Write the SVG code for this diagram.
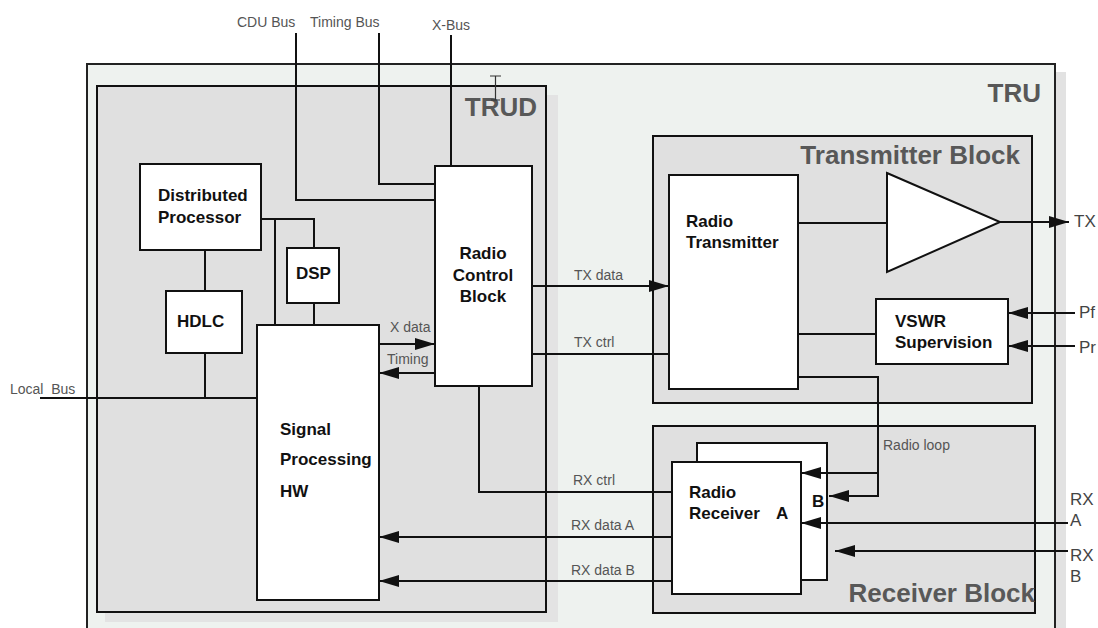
<svg xmlns="http://www.w3.org/2000/svg" width="1098" height="628" viewBox="0 0 1098 628">
<style>
.box{fill:#fff;stroke:#111;stroke-width:2}
.blk{fill:#e0e0e0;stroke:#111;stroke-width:2}
.ln{fill:none;stroke:#111;stroke-width:2}
.nl{font-family:"Liberation Sans",Arial,sans-serif;font-size:17px;font-weight:bold;fill:#111}
.tl{font-family:"Liberation Sans",Arial,sans-serif;font-size:26px;font-weight:bold;fill:#585858}
.lb{font-family:"Liberation Sans",Arial,sans-serif;font-size:14px;fill:#555}
.io{font-family:"Liberation Sans",Arial,sans-serif;font-size:17px;fill:#444}
</style>
<defs>
<marker id="ah" markerUnits="userSpaceOnUse" markerWidth="20" markerHeight="12" refX="20" refY="6" orient="auto">
<path d="M0,0 L20,6 L0,12 z" fill="#111"/>
</marker>
</defs>
<rect width="1098" height="628" fill="#fff"/>
<g id="tru">
<rect x="1055" y="72" width="11" height="570" fill="#e2e2e2"/>
<rect x="87" y="64" width="968" height="580" fill="#eef2ef" stroke="#222" stroke-width="2"/>
<text class="tl" x="1041" y="102" text-anchor="end">TRU</text>
</g>
<g id="trud">
<rect x="546" y="95" width="12" height="527" fill="#e3e3e3"/>
<rect x="105" y="612" width="453" height="10" fill="#e3e3e3"/>
<rect class="blk" x="97" y="86" width="449" height="526"/>
<text class="tl" x="537" y="116" text-anchor="end">TRUD</text>
</g>
<g id="transmitter-block">
<rect class="blk" x="653" y="136" width="379" height="267"/>
<text class="tl" x="1020" y="164" text-anchor="end">Transmitter Block</text>
</g>
<g id="receiver-block">
<rect class="blk" x="653" y="426" width="382" height="187"/>
<text class="tl" x="1035" y="602" text-anchor="end">Receiver Block</text>
</g>
<path d="M490,76 H501 M495.5,76 V100 M491,100 H500" stroke="#333" stroke-width="1.2" fill="none"/>
<g id="distributed-processor">
<rect class="box" x="140" y="164" width="121" height="86"/>
<text class="nl" x="158" y="201">Distributed</text>
<text class="nl" x="158" y="223">Processor</text>
</g>
<g id="hdlc">
<rect class="box" x="166" y="291" width="76" height="62"/>
<text class="nl" x="177" y="327">HDLC</text>
</g>
<g id="dsp">
<rect class="box" x="287" y="248" width="52" height="55"/>
<text class="nl" x="296" y="279">DSP</text>
</g>
<g id="signal-processing">
<rect class="box" x="257" y="325" width="122" height="275"/>
<text class="nl" x="280" y="435">Signal</text>
<text class="nl" x="280" y="465">Processing</text>
<text class="nl" x="280" y="497">HW</text>
</g>
<g id="radio-control-block">
<rect class="box" x="435" y="166" width="97" height="220"/>
<text class="nl" x="483" y="259" text-anchor="middle">Radio</text>
<text class="nl" x="483" y="281" text-anchor="middle">Control</text>
<text class="nl" x="483" y="302" text-anchor="middle">Block</text>
</g>
<g id="radio-transmitter">
<rect class="box" x="669" y="175" width="129" height="214"/>
<text class="nl" x="686" y="227">Radio</text>
<text class="nl" x="686" y="248">Transmitter</text>
</g>
<g id="amplifier">
<path class="box" d="M887,173 L1000,222 L887,272 z"/>
</g>
<g id="vswr">
<rect class="box" x="876" y="299" width="132" height="65"/>
<text class="nl" x="895" y="327">VSWR</text>
<text class="nl" x="895" y="348">Supervision</text>
</g>
<g id="radio-receiver-b">
<rect class="box" x="697" y="443" width="130" height="137"/>
<text class="nl" x="812" y="507">B</text>
</g>
<g id="radio-receiver-a">
<rect class="box" x="672" y="462" width="129" height="132"/>
<text class="nl" x="689" y="498">Radio</text>
<text class="nl" x="689" y="519">Receiver</text>
<text class="nl" x="776" y="519">A</text>
</g>
<g id="connectors">
<path class="ln" d="M296,33 V200 H435"/>
<path class="ln" d="M379,33 V184 H435"/>
<path class="ln" d="M451,35 V166"/>
<path class="ln" d="M261,219 H314 V248"/>
<path class="ln" d="M275,219 V325"/>
<path class="ln" d="M314,303 V325"/>
<path class="ln" d="M205,250 V291"/>
<path class="ln" d="M205,353 V398"/>
<path class="ln" d="M40,398 H257"/>
<path class="ln" d="M379,344 H435" marker-end="url(#ah)"/>
<path class="ln" d="M435,373 H379" marker-end="url(#ah)"/>
<path class="ln" d="M532,286 H669" marker-end="url(#ah)"/>
<path class="ln" d="M532,354 H669"/>
<path class="ln" d="M479,386 V492 H672"/>
<path class="ln" d="M672,537 H379" marker-end="url(#ah)"/>
<path class="ln" d="M672,581 H379" marker-end="url(#ah)"/>
<path class="ln" d="M798,223 H887"/>
<path class="ln" d="M1000,222 H1069" marker-end="url(#ah)"/>
<path class="ln" d="M798,334 H876"/>
<path class="ln" d="M1075,313 H1008" marker-end="url(#ah)"/>
<path class="ln" d="M1075,346 H1008" marker-end="url(#ah)"/>
<path class="ln" d="M798,377 H878 V496 H829" marker-end="url(#ah)"/>
<path class="ln" d="M878,473 H801" marker-end="url(#ah)"/>
<path class="ln" d="M1068,523 H801" marker-end="url(#ah)"/>
<path class="ln" d="M1068,551 H835" marker-end="url(#ah)"/>
<text class="lb" x="237" y="27">CDU Bus</text>
<text class="lb" x="310" y="27">Timing Bus</text>
<text class="lb" x="432" y="30">X-Bus</text>
<text class="lb" x="10" y="394" style="white-space:pre">Local  Bus</text>
<text class="lb" x="390" y="332">X data</text>
<text class="lb" x="387" y="364">Timing</text>
<text class="lb" x="574" y="280">TX data</text>
<text class="lb" x="574" y="347">TX ctrl</text>
<text class="lb" x="573" y="485">RX ctrl</text>
<text class="lb" x="571" y="530">RX data A</text>
<text class="lb" x="571" y="575">RX data B</text>
<text class="lb" x="883" y="450">Radio loop</text>
<text class="io" x="1074" y="227">TX</text>
<text class="io" x="1079" y="318">Pf</text>
<text class="io" x="1079" y="353">Pr</text>
<text class="io" x="1070" y="505">RX</text>
<text class="io" x="1070" y="526">A</text>
<text class="io" x="1070" y="561">RX</text>
<text class="io" x="1070" y="582">B</text>
</g>
</svg>
